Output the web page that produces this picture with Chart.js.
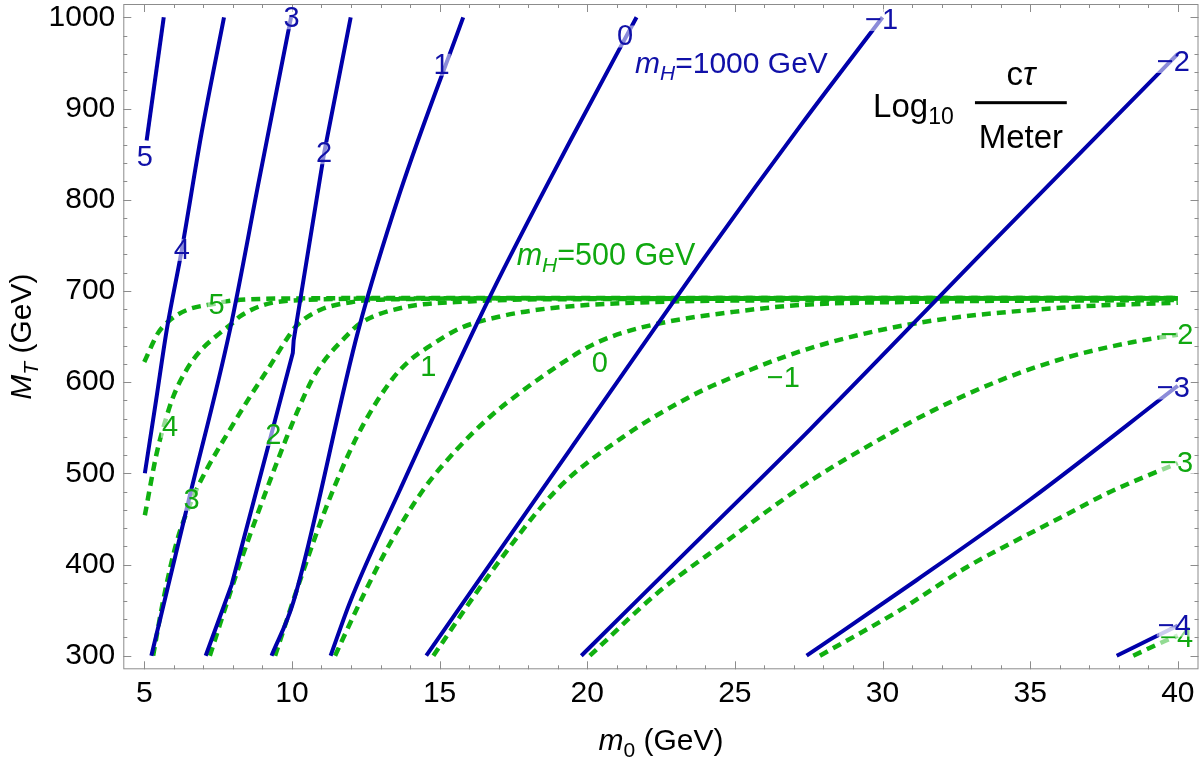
<!DOCTYPE html>
<html>
<head>
<meta charset="utf-8">
<script src="https://cdn.jsdelivr.net/npm/chart.js@4.4.0/dist/chart.umd.min.js"></script>
<style>
  html, body { margin: 0; padding: 0; background: #fff; }
  #wrap { width: 1200px; height: 759px; }
</style>
</head>
<body>
<div id="wrap"><canvas id="chart" width="1200" height="759"></canvas></div>
<script>
var xTicks = [5, 10, 15, 20, 25, 30, 35, 40];
var yTicks = [300, 400, 500, 600, 700, 800, 900, 1000];

// m_H = 1000 GeV contours, Log10(c tau / m), points are [m0, MT]
var blue5  = [[5.08, 865], [5.66, 1000]];
var blue4  = [[5.02, 500], [5.40, 580], [5.76, 657], [6.27, 745], [6.94, 873], [7.70, 1000]];
var blue3  = [[5.24, 300], [6.51, 471], [7.90, 657], [8.89, 822], [9.97, 1000]];
var blue2  = [[7.08, 300], [7.96, 378], [10.03, 632], [10.06, 646], [11.09, 851], [11.99, 1000]];
var blue1  = [[9.31, 300], [10.05, 359], [12.25, 657], [13.66, 808], [15.80, 1000]];
var blue0  = [[11.31, 300], [11.97, 359], [13.66, 482], [16.71, 694], [19.45, 866], [21.67, 1000]];
var blueM1 = [[14.55, 300], [19.42, 526], [24.16, 745], [27.24, 882], [30.0, 1000]];
var blueM2 = [[19.8, 300], [23.67, 424], [27.54, 548], [33.47, 745], [40.0, 960]];
var blueM3 = [[27.43, 300], [31.16, 383], [34.99, 471], [40.0, 596]];
var blueM4 = [[37.93, 300], [40.0, 333]];

// m_H = 500 GeV contours
var green5  = [[5.0, 622], [5.47, 654], [5.87, 668], [6.44, 679], [7.39, 686], [8.01, 689.5], [10.3, 691.8], [15, 692.3], [40, 692.3]];
var green4  = [[5.02, 454], [5.42, 522], [5.7, 556], [5.98, 584], [6.44, 614], [6.89, 634], [7.57, 654], [7.96, 664], [8.24, 672], [9.03, 684.5], [10.05, 689.5], [14, 691.8], [40, 692.2]];
var green3  = [[5.30, 300], [5.65, 362], [6.1, 425], [6.6, 470], [7.11, 504], [7.90, 548], [8.58, 584], [9.26, 618], [9.82, 647], [10.16, 662], [10.95, 679], [12.08, 688], [13.66, 691], [20, 692], [40, 692]];
var green2  = [[7.22, 300], [8.24, 401], [9.48, 511], [10.16, 566], [10.72, 605], [11.18, 627], [11.68, 645], [12.30, 664], [13.66, 681], [16, 688.5], [20, 691], [40, 691.8]];
var green1  = [[9.43, 300], [10.3, 385], [11.2, 466], [12.2, 540], [13.32, 600], [14.0, 624], [14.69, 640], [15.69, 659], [17.05, 672], [18.74, 681], [21.55, 687], [27.2, 690], [40, 691.5]];
var green0  = [[11.46, 300], [12.4, 365], [13.32, 423], [14.45, 482], [15.58, 526], [16.71, 562], [17.83, 591], [18.97, 617], [20.0, 638], [21.0, 652], [22.69, 666], [24.95, 677], [27.2, 684.5], [31, 688], [40, 690]];
var greenM1 = [[14.79, 300], [16.71, 390], [18.97, 482], [21.22, 540], [23.48, 584], [24.6, 601], [27.43, 636], [31.04, 664], [36.24, 682], [40, 687]];
var greenM2 = [[20.09, 300], [22.35, 368], [24.61, 423], [27.43, 489], [29.46, 529], [31.72, 569], [33.98, 602], [36.24, 627], [38.49, 644], [40, 652]];
var greenM3 = [[27.88, 300], [30.59, 350], [32.85, 397], [35.1, 436], [36.24, 455], [37.6, 478], [39.39, 503], [40, 511]];
var greenM4 = [[38.49, 300], [39.62, 317], [40, 322]];

// contour labels: [text, m0, MT]
var blueLabels = [['5', 5.02, 847], ['4', 6.27, 745], ['3', 9.99, 999], ['2', 11.09, 851], ['1', 15.07, 948],
  ['0', 21.28, 979], ['\u22121', 29.97, 997], ['\u22122', 39.85, 951], ['\u22123', 39.85, 593], ['\u22124', 39.88, 333]];
var greenLabels = [['5', 7.45, 684.5], ['4', 5.87, 551], ['3', 6.6, 471], ['2', 9.37, 542], ['1', 14.62, 617],
  ['0', 20.43, 621], ['\u22121', 26.64, 604], ['\u22122', 39.97, 652], ['\u22123', 39.96, 511], ['\u22124', 39.96, 319]];

var BLUE = '#0000aa';
var GREEN = '#10b010';
var FONT = "'Liberation Sans', Arial, Helvetica, sans-serif";

function toPts(arr) {
  return arr.map(function(p) { return {x: p[0], y: p[1]}; });
}

var datasets = [];
[blue5, blue4, blue3, blue2, blue1, blue0, blueM1, blueM2, blueM3, blueM4].forEach(function(d) {
  var ds = {data: toPts(d), showLine: true, borderColor: BLUE, borderWidth: 4,
    pointRadius: 0, fill: false, cubicInterpolationMode: 'monotone'};
  // the "2" contour has sharp kinks in the original
  if (d === blue2) { ds.cubicInterpolationMode = 'default'; ds.tension = 0; }
  datasets.push(ds);
});
[green5, green4, green3, green2, green1, green0, greenM1, greenM2, greenM3, greenM4].forEach(function(d) {
  datasets.push({data: toPts(d), showLine: true, borderColor: GREEN, borderWidth: 4.5, borderDash: [9, 6],
    pointRadius: 0, fill: false, cubicInterpolationMode: 'monotone'});
});

function partFont(p, size) {
  var s = (p[1] === 's' || p[1] === 'b') ? Math.round(size * 0.7) : size;
  var it = (p[1] === 'i' || p[1] === 's') ? 'italic ' : '';
  return it + s + 'px ' + FONT;
}

// parts: [text, style] with n normal, i italic, s italic subscript, b normal subscript
function richText(ctx, parts, x, y, size, align) {
  var widths = parts.map(function(p) { ctx.font = partFont(p, size); return ctx.measureText(p[0]).width; });
  var total = widths.reduce(function(a, b) { return a + b; }, 0);
  var cx = align === 'center' ? x - total / 2 : x;
  ctx.textAlign = 'left';
  ctx.textBaseline = 'alphabetic';
  parts.forEach(function(p, i) {
    ctx.font = partFont(p, size);
    var dy = (p[1] === 's' || p[1] === 'b') ? size * 0.22 : 0;
    ctx.fillText(p[0], cx, y + dy);
    cx += widths[i];
  });
}

function noPad(s) {
  s.paddingTop = 0; s.paddingBottom = 0; s.paddingLeft = 0; s.paddingRight = 0;
}

var decor = {
  id: 'decor',
  afterDatasetsDraw: function(chart) {
    var ctx = chart.ctx, xs = chart.scales.x, ys = chart.scales.y, a = chart.chartArea;
    var v, px, py;
    ctx.save();

    // frame with inside ticks on all four sides
    ctx.strokeStyle = '#8c8c8c';
    ctx.lineWidth = 1;
    ctx.strokeRect(a.left + 0.5, a.top + 0.5, a.right - a.left - 1, a.bottom - a.top - 1);
    ctx.beginPath();
    for (v = 5; v <= 40; v++) {
      px = Math.round(xs.getPixelForValue(v)) + 0.5;
      var lx = (v % 5 === 0) ? 8 : 4;
      ctx.moveTo(px, a.bottom); ctx.lineTo(px, a.bottom - lx);
      ctx.moveTo(px, a.top); ctx.lineTo(px, a.top + lx);
    }
    for (v = 300; v <= 1000; v += 20) {
      py = Math.round(ys.getPixelForValue(v)) + 0.5;
      var ly = (v % 100 === 0) ? 8 : 4;
      ctx.moveTo(a.left, py); ctx.lineTo(a.left + ly, py);
      ctx.moveTo(a.right, py); ctx.lineTo(a.right - ly, py);
    }
    ctx.stroke();

    // contour labels
    ctx.font = '29px ' + FONT;
    ctx.textAlign = 'center';
    ctx.textBaseline = 'middle';
    function drawLabels(list, color) {
      list.forEach(function(l) {
        var x = xs.getPixelForValue(l[1]), y = ys.getPixelForValue(l[2]);
        var w = ctx.measureText(l[0]).width;
        ctx.fillStyle = 'rgba(255,255,255,0.55)';
        ctx.fillRect(x - w / 2 - 1, y - 11, w + 2, 22);
        ctx.fillStyle = color;
        ctx.fillText(l[0], x, y + 1);
      });
    }
    drawLabels(greenLabels, '#10a810');
    drawLabels(blueLabels, '#1010a8');

    // annotations
    ctx.fillStyle = '#1010a8';
    richText(ctx, [['m', 'i'], ['H', 's'], ['=1000 GeV', 'n']], xs.getPixelForValue(21.62), ys.getPixelForValue(938.6), 30, 'left');
    ctx.fillStyle = '#10a810';
    richText(ctx, [['m', 'i'], ['H', 's'], ['=500 GeV', 'n']], xs.getPixelForValue(17.61), ys.getPixelForValue(728.4), 30.5, 'left');

    ctx.fillStyle = '#000';
    richText(ctx, [['Log', 'n'], ['10', 'b']], xs.getPixelForValue(29.68), ys.getPixelForValue(891), 33, 'left');
    var bx0 = xs.getPixelForValue(33.13), bx1 = xs.getPixelForValue(36.24), by = ys.getPixelForValue(906.4);
    ctx.fillRect(bx0, by - 1.5, bx1 - bx0, 3);
    var bc = (bx0 + bx1) / 2;
    richText(ctx, [['c', 'n'], ['\u03c4', 'i']], bc, ys.getPixelForValue(925.8), 33, 'center');
    richText(ctx, [['Meter', 'n']], bc, ys.getPixelForValue(856.4), 33, 'center');
    ctx.restore();
  },
  afterDraw: function(chart) {
    var ctx = chart.ctx, a = chart.chartArea;
    ctx.save();
    ctx.fillStyle = '#000';
    richText(ctx, [['m', 'i'], ['0', 'b'], [' (GeV)', 'n']], (a.left + a.right) / 2, 750, 30, 'center');
    ctx.translate(31, (a.top + a.bottom) / 2);
    ctx.rotate(-Math.PI / 2);
    richText(ctx, [['M', 'i'], ['T', 's'], [' (GeV)', 'n']], 0, 0, 30, 'center');
    ctx.restore();
  }
};

new Chart(document.getElementById('chart'), {
  type: 'scatter',
  data: {datasets: datasets},
  plugins: [decor],
  options: {
    responsive: false,
    animation: false,
    devicePixelRatio: 1,
    layout: {autoPadding: false, padding: {top: 4, right: 1.5, left: 0, bottom: 0}},
    plugins: {legend: {display: false}, tooltip: {enabled: false}},
    scales: {
      x: {
        type: 'linear', min: 4.29, max: 40.70,
        afterBuildTicks: function(s) { s.ticks = xTicks.map(function(v) { return {value: v}; }); },
        afterFit: function(s) { s.height = 89.7; noPad(s); },
        grid: {display: false, drawTicks: false},
        border: {display: false},
        ticks: {padding: 6, color: '#000', font: {family: FONT, size: 30}, maxRotation: 0,
          callback: function(v) { return String(v); }}
      },
      y: {
        type: 'linear', min: 285.1, max: 1014.6,
        afterBuildTicks: function(s) { s.ticks = yTicks.map(function(v) { return {value: v}; }); },
        afterFit: function(s) { s.width = 123.3; noPad(s); },
        grid: {display: false, drawTicks: false},
        border: {display: false},
        ticks: {padding: 8, color: '#000', font: {family: FONT, size: 30},
          callback: function(v) { return String(v); }}
      }
    }
  }
});
</script>
</body>
</html>
